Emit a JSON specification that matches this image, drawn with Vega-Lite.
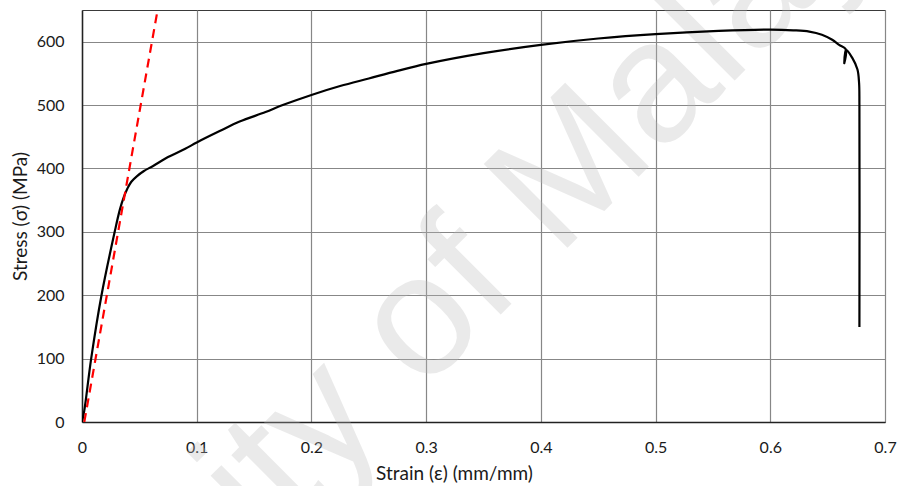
{
  "$schema": "https://vega.github.io/schema/vega-lite/v6.json",
  "width": 803,
  "height": 412,
  "autosize": "none",
  "padding": {"left": 82, "top": 10, "right": 17, "bottom": 64},
  "background": "white",
  "config": {
    "view": {"stroke": "#3a3a3a", "strokeWidth": 1},
    "axis": {
      "labelFont": "Lato",
      "titleFont": "Lato",
      "labelFontSize": 16,
      "titleFontSize": 19,
      "titleFontWeight": "normal",
      "labelColor": "#1a1a1a",
      "titleColor": "#1a1a1a",
      "gridColor": "#878787",
      "gridWidth": 1.2,
      "gridOpacity": 1,
      "domainColor": "#222222",
      "domainWidth": 1.5,
      "ticks": false,
      "tickSize": 0,
      "labelFlush": false,
      "labelOverlap": false
    }
  },
  "datasets": {
    "curve": [
      {"i": 0, "strain": 0, "stress": 0},
      {"i": 1, "strain": 0.002, "stress": 18},
      {"i": 2, "strain": 0.008, "stress": 100},
      {"i": 3, "strain": 0.017, "stress": 200},
      {"i": 4, "strain": 0.0285, "stress": 300},
      {"i": 5, "strain": 0.033, "stress": 335},
      {"i": 6, "strain": 0.0365, "stress": 355},
      {"i": 7, "strain": 0.0395, "stress": 368},
      {"i": 8, "strain": 0.043, "stress": 379},
      {"i": 9, "strain": 0.048, "stress": 388},
      {"i": 10, "strain": 0.054, "stress": 396},
      {"i": 11, "strain": 0.062, "stress": 404},
      {"i": 12, "strain": 0.075, "stress": 418},
      {"i": 13, "strain": 0.09, "stress": 431},
      {"i": 14, "strain": 0.1, "stress": 441},
      {"i": 15, "strain": 0.12, "stress": 459},
      {"i": 16, "strain": 0.1374, "stress": 474},
      {"i": 17, "strain": 0.16, "stress": 489},
      {"i": 18, "strain": 0.175, "stress": 500},
      {"i": 19, "strain": 0.2, "stress": 516},
      {"i": 20, "strain": 0.225, "stress": 530},
      {"i": 21, "strain": 0.25, "stress": 542},
      {"i": 22, "strain": 0.275, "stress": 554},
      {"i": 23, "strain": 0.3, "stress": 565},
      {"i": 24, "strain": 0.35, "stress": 582},
      {"i": 25, "strain": 0.4, "stress": 595},
      {"i": 26, "strain": 0.45, "stress": 605},
      {"i": 27, "strain": 0.5, "stress": 612},
      {"i": 28, "strain": 0.555, "stress": 617},
      {"i": 29, "strain": 0.6, "stress": 619},
      {"i": 30, "strain": 0.62, "stress": 618},
      {"i": 31, "strain": 0.634, "stress": 616},
      {"i": 32, "strain": 0.645, "stress": 611},
      {"i": 33, "strain": 0.654, "stress": 603},
      {"i": 34, "strain": 0.66, "stress": 595},
      {"i": 35, "strain": 0.6658, "stress": 588},
      {"i": 36, "strain": 0.6645, "stress": 566},
      {"i": 37, "strain": 0.666, "stress": 587},
      {"i": 38, "strain": 0.6716, "stress": 574},
      {"i": 39, "strain": 0.676, "stress": 556},
      {"i": 40, "strain": 0.6774, "stress": 535},
      {"i": 41, "strain": 0.6777, "stress": 500},
      {"i": 42, "strain": 0.6777, "stress": 150}
    ],
    "elastic": [
      {"strain": 0.002, "stress": 0},
      {"strain": 0.0659, "stress": 650}
    ],
    "watermark": [
      {"label": "University of Malaya", "strain": 0.279, "stress": 14}
    ]
  },
  "encoding": {
    "x": {
      "field": "strain",
      "type": "quantitative",
      "scale": {"domain": [0, 0.7], "nice": false, "zero": false},
      "axis": {
        "title": "Strain (ε) (mm/mm)",
        "values": [0, 0.1, 0.2, 0.3, 0.4, 0.5, 0.6, 0.7],
        "format": "~g",
        "labelPadding": 17,
        "titleX": 372,
        "titleY": 51,
        "titleBaseline": "middle",
        "titleAnchor": "middle"
      }
    },
    "y": {
      "field": "stress",
      "type": "quantitative",
      "scale": {"domain": [0, 650], "nice": false, "zero": false},
      "axis": {
        "title": "Stress (σ) (MPa)",
        "values": [0, 100, 200, 300, 400, 500, 600],
        "labelPadding": 18,
        "titleX": -62,
        "titleY": 206,
        "titleBaseline": "middle",
        "titleAnchor": "middle"
      }
    }
  },
  "layer": [
    {
      "data": {"name": "watermark"},
      "mark": {
        "type": "text",
        "font": "Liberation Sans",
        "fontSize": 172,
        "angle": 315,
        "align": "center",
        "baseline": "alphabetic",
        "color": "#bbbbbb",
        "opacity": 0.3,
        "clip": false
      },
      "encoding": {"text": {"field": "label"}}
    },
    {
      "data": {"name": "curve"},
      "mark": {"type": "line", "color": "#000000", "strokeWidth": 2.2, "interpolate": "catmull-rom", "clip": true},
      "encoding": {"order": {"field": "i", "type": "quantitative"}}
    },
    {
      "data": {"name": "elastic"},
      "mark": {"type": "line", "color": "#ff0000", "strokeWidth": 2.2, "strokeDash": [9, 6], "clip": true},
      "encoding": {}
    }
  ]
}
